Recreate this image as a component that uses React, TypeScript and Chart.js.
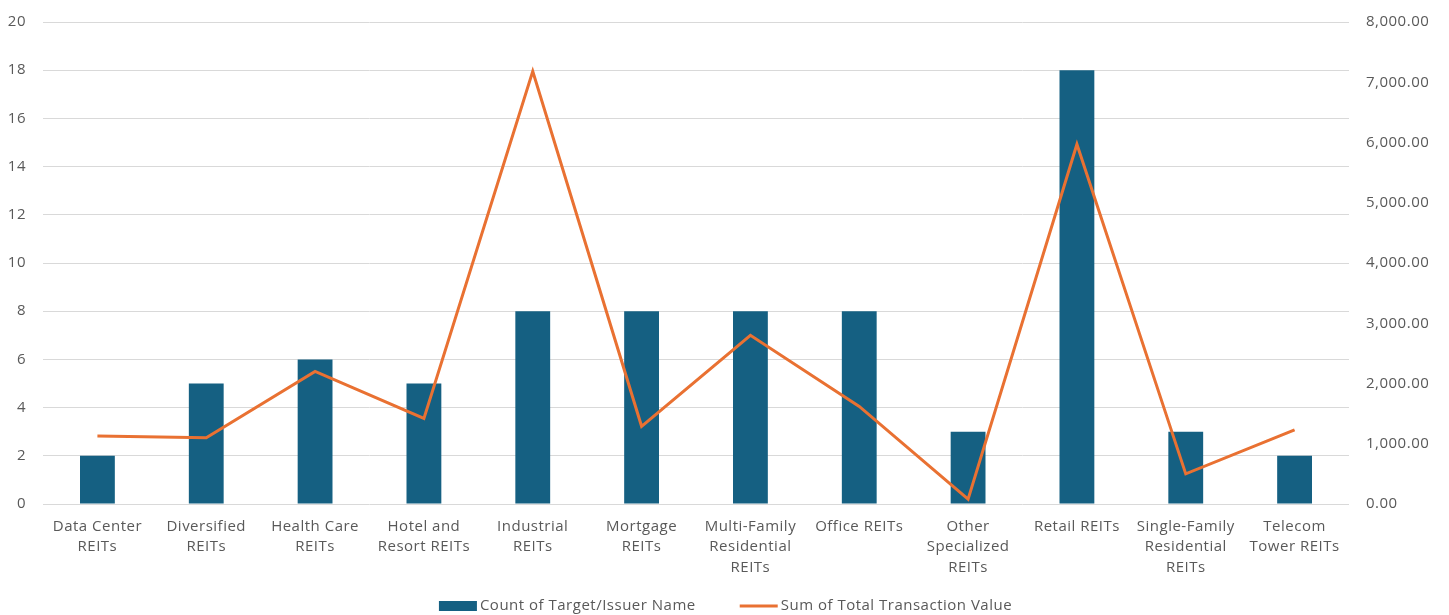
import React, { useEffect, useRef } from "react";
import { Chart, registerables } from "chart.js";

Chart.register(...registerables);

const categories: string[][] = [
  ["Data Center", "REITs"],
  ["Diversified", "REITs"],
  ["Health Care", "REITs"],
  ["Hotel and", "Resort REITs"],
  ["Industrial", "REITs"],
  ["Mortgage", "REITs"],
  ["Multi-Family", "Residential", "REITs"],
  ["Office REITs"],
  ["Other", "Specialized", "REITs"],
  ["Retail REITs"],
  ["Single-Family", "Residential", "REITs"],
  ["Telecom", "Tower REITs"],
];

const countValues: number[] = [2, 5, 6, 5, 8, 8, 8, 8, 3, 18, 3, 2];
const transactionValues: number[] = [1130, 1100, 2200, 1420, 7180, 1290, 2800, 1620, 80, 5970, 500, 1230];

const leftTicks: number[] = [0, 2, 4, 6, 8, 10, 12, 14, 16, 18, 20];
const rightTicks: number[] = [0, 1000, 2000, 3000, 4000, 5000, 6000, 7000, 8000];

const legendLabels: string[] = ["Count of Target/Issuer Name", "Sum of Total Transaction Value"];

const BAR_COLOR = "#156082";
const LINE_COLOR = "#E97132";
const TEXT_COLOR = "#595959";
const GRID_COLOR = "#d9d9d9";
const FONT = "'Open Sans', 'Noto Sans', sans-serif";
const FONT_SIZE = 15;
const LETTER_SPACING = "0.5px";

const spacingPlugin = {
  id: "letterSpacing",
  beforeLayout(chart: any) {
    (chart.ctx as any).letterSpacing = LETTER_SPACING;
  },
  beforeDraw(chart: any) {
    (chart.ctx as any).letterSpacing = LETTER_SPACING;
  },
};

const customLegend = {
  id: "customLegend",
  afterDraw(chart: any) {
    const ctx = chart.ctx as CanvasRenderingContext2D;
    ctx.save();
    (ctx as any).letterSpacing = LETTER_SPACING;
    ctx.font = `${FONT_SIZE}px ${FONT}`;
    const sw = 38;
    const g1 = 3;
    const gap = 44;
    const w1 = ctx.measureText(legendLabels[0]).width;
    const w2 = ctx.measureText(legendLabels[1]).width;
    const total = sw + g1 + w1 + gap + sw + g1 + w2;
    let x = chart.width / 2 - total / 2 + 1;
    const y = chart.height - 9;
    ctx.fillStyle = BAR_COLOR;
    ctx.fillRect(x, y - 5, sw, 10);
    x += sw + g1;
    ctx.fillStyle = TEXT_COLOR;
    ctx.textBaseline = "middle";
    ctx.textAlign = "left";
    ctx.fillText(legendLabels[0], x, y);
    x += w1 + gap;
    ctx.fillStyle = LINE_COLOR;
    ctx.fillRect(x, y - 1.5, sw, 3);
    x += sw + g1;
    ctx.fillStyle = TEXT_COLOR;
    ctx.fillText(legendLabels[1], x, y);
    ctx.restore();
  },
};

export default function App() {
  const ref = useRef<HTMLCanvasElement | null>(null);

  useEffect(() => {
    document.body.style.margin = "0";
    if (!ref.current) return;
    const chart = new Chart(ref.current, {
      type: "bar",
      data: {
        labels: categories,
        datasets: [
          {
            type: "line",
            label: legendLabels[1],
            data: transactionValues,
            borderColor: LINE_COLOR,
            backgroundColor: LINE_COLOR,
            borderWidth: 3,
            pointRadius: 0,
            tension: 0,
            yAxisID: "y1",
            order: 0,
          },
          {
            type: "bar",
            label: legendLabels[0],
            data: countValues,
            backgroundColor: BAR_COLOR,
            barPercentage: 0.32,
            categoryPercentage: 1,
            yAxisID: "y",
            order: 1,
          },
        ],
      },
      plugins: [spacingPlugin, customLegend],
      options: {
        animation: false,
        responsive: false,
        layout: { padding: { top: 22, left: 0, right: 0, bottom: 30 } },
        plugins: {
          tooltip: { enabled: false },
          legend: { display: false },
        },
        scales: {
          x: {
            grid: { display: false },
            border: { display: false },
            afterFit: (s: any) => {
              s.height = 81;
              s.paddingLeft = 0;
              s.paddingRight = 0;
            },
            ticks: {
              color: TEXT_COLOR,
              font: { family: FONT, size: FONT_SIZE, lineHeight: 1.38 },
              maxRotation: 0,
              autoSkip: false,
              padding: 4,
            },
          },
          y: {
            position: "left",
            min: 0,
            max: 20,
            afterBuildTicks: (s: any) => {
              s.ticks = leftTicks.map((v) => ({ value: v }));
            },
            afterFit: (s: any) => {
              s.width = 43;
              s.paddingTop = 0;
              s.paddingBottom = 0;
            },
            grid: { color: GRID_COLOR, drawTicks: false },
            border: { display: false },
            ticks: {
              color: TEXT_COLOR,
              font: { family: FONT, size: FONT_SIZE },
              padding: 17,
            },
          },
          y1: {
            position: "right",
            min: 0,
            max: 8000,
            afterBuildTicks: (s: any) => {
              s.ticks = rightTicks.map((v) => ({ value: v }));
            },
            afterFit: (s: any) => {
              s.width = 100;
              s.paddingTop = 0;
              s.paddingBottom = 0;
            },
            grid: { display: false, drawTicks: false },
            border: { display: false },
            ticks: {
              color: TEXT_COLOR,
              font: { family: FONT, size: FONT_SIZE },
              padding: 17,
              callback: (v: any) =>
                Number(v).toLocaleString("en-US", {
                  minimumFractionDigits: 2,
                  maximumFractionDigits: 2,
                }),
            },
          },
        },
      },
    });
    return () => chart.destroy();
  }, []);

  return (
    <div style={{ width: 1449, height: 615 }}>
      <canvas ref={ref} width={1449} height={615} style={{ width: 1449, height: 615 }} />
    </div>
  );
}
